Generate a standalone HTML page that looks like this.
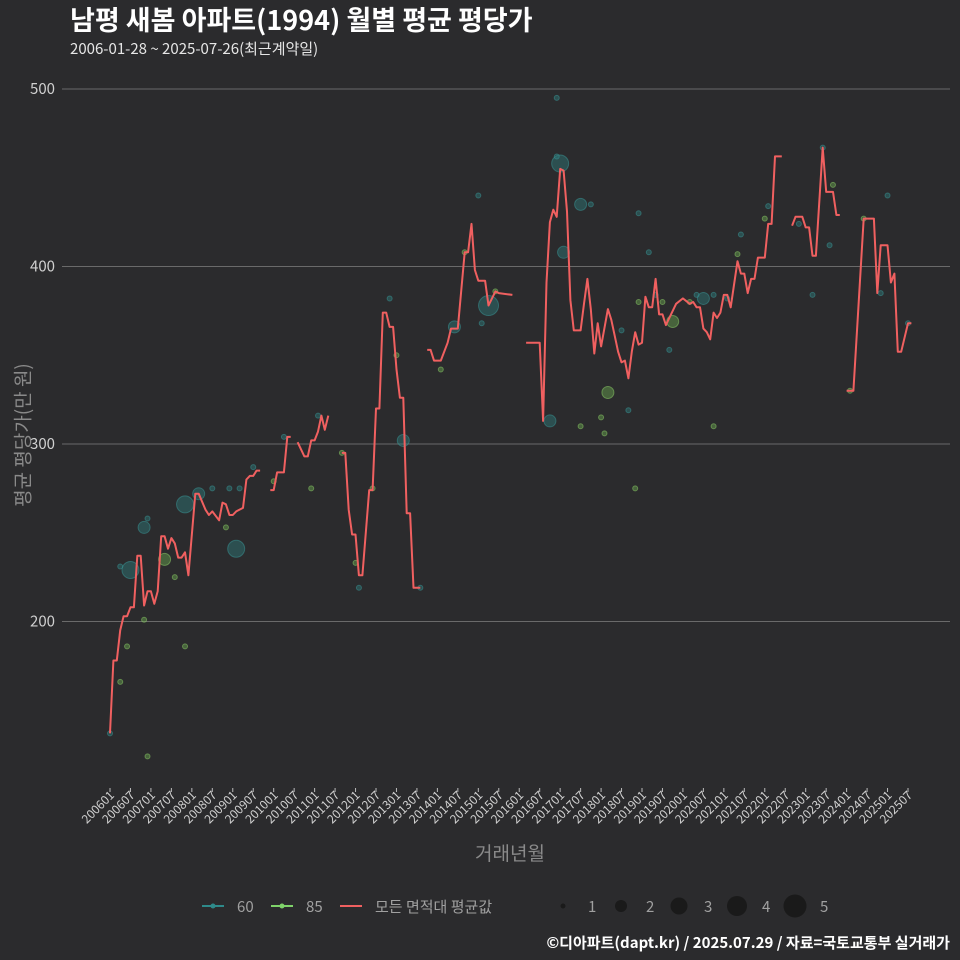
<!DOCTYPE html>
<html><head><meta charset="utf-8">
<style>
body{margin:0;background:#2b2b2d;}
#wrap{position:relative;width:960px;height:960px;}
svg{display:block;font-family:"Noto Sans CJK KR","Liberation Sans",sans-serif;}
#ytitle{position:absolute;left:22px;top:435px;transform:translate(-50%,-50%) rotate(-90deg);white-space:nowrap;color:#8a8a8a;font-size:19px;font-family:"Noto Sans CJK KR","Liberation Sans",sans-serif;line-height:1;}
</style></head>
<body>
<div id="wrap">
<svg id="chart" width="960" height="960" viewBox="0 0 960 960" xmlns="http://www.w3.org/2000/svg">
<rect x="0" y="0" width="960" height="960" fill="#2b2b2d"/>
<text x="70" y="30" fill="#ffffff" font-size="27" font-weight="bold">남평 새봄 아파트(1994) 월별 평균 평당가</text>
<text x="70" y="54" fill="#e6e6e6" font-size="15">2006-01-28 ~ 2025-07-26(최근계약일)</text>
<g id="grid"></g>
<g id="yaxis"></g>
<g id="xaxis"></g>
<g id="bubbles"></g>
<g id="line"></g>
<text x="510" y="860" text-anchor="middle" fill="#8a8a8a" font-size="19">거래년월</text>
<g id="legend"></g>
<text x="950" y="948" text-anchor="end" fill="#ffffff" font-size="15" font-weight="bold">©디아파트(dapt.kr) / 2025.07.29 / 자료=국토교통부 실거래가</text>
</svg>
<div id="ytitle">평균 평당가(만 원)</div>
</div>
<script>
// ---- data ----
const yTicks = [200, 300, 400, 500];
const tickCount = 40; // every 6 months from 200601 to 202507
const lineMonths = [0,1,2,3,4,5,6,7,8,9,10,11,12,13,14,15,16,17,18,19,20,21,22,23,25,26,28,29,30,32,33,34,35,36,37,39,40,41,42,43,44,null,47,48,49,51,52,53,null,55,57,58,59,60,61,62,63,64,null,68,69,70,71,72,73,74,76,77,78,79,80,81,82,83,84,85,86,87,88,89,91,null,93,94,95,97,99,100,102,104,105,106,107,108,110,111,113,114,118,null,122,126,127,128,129,130,131,132,133,134,135,136,137,138,139,140,141,142,143,144,146,147,148,149,150,151,152,153,154,155,156,157,158,159,160,161,162,163,166,168,170,171,172,173,174,175,176,177,178,179,180,181,182,184,185,186,187,188,189,190,191,192,193,194,195,196,197,null,200,201,203,204,205,206,207,209,210,212,213,214,null,216,218,221,224,225,226,228,229,230,231,232,234,235];
const lineValues = [137,178,178,195,203,203,208,208,237,237,209,217,217,210,217,248,248,241,247,244,236,236,239,226,272,272,263,260,262,257,267,266,260,260,262,264,280,282,282,285,285,null,274,274,284,284,304,304,null,301,293,293,302,302,307,316,308,316,null,295,295,263,249,249,226,226,274,274,320,320,374,374,366,366,342,326,326,261,261,219,219,null,353,353,347,347,357,365,365,408,408,424,398,392,392,378,386,385,384,null,357,357,313,391,425,432,428,455,454,431,381,364,364,364,379,393,376,351,368,355,376,370,361,352,346,347,337,352,363,356,357,383,377,377,393,373,373,367,379,382,379,380,377,377,365,363,359,374,371,374,384,384,377,403,396,396,385,393,393,405,405,405,424,424,462,462,462,null,423,428,428,422,422,406,406,467,442,442,429,429,null,330,330,427,427,385,412,412,391,396,352,352,368,368];
const bubbleMonths60 = [6,10,22,26,37,86,101,111,132,133,129,138,174,0,3,11,30,35,38,42,51,61,73,82,91,108,109,131,141,150,152,155,158,160,164,172,177,181,185,193,202,206,209,211,228,226,234,131];
const bubbleValues60 = [229,253,266,272,241,302,366,378,458,408,313,435,382,137,231,258,275,275,275,287,304,316,219,382,219,440,368,462,435,364,319,430,408,384,353,384,384,382,418,434,424,384,467,412,440,385,368,495];
const bubbleCounts60 = [3,2,3,2,3,2,2,4,3,2,2,2,2,1,1,1,1,1,1,1,1,1,1,1,1,1,1,1,1,1,1,1,1,1,1,1,1,1,1,1,1,1,1,1,1,1,1,1];
const bubbleMonths85 = [16,146,165,3,5,11,10,19,22,34,48,59,68,72,77,84,97,104,113,138,144,145,154,155,162,170,177,184,192,212,221,217];
const bubbleValues85 = [235,329,369,166,186,124,201,225,186,253,279,275,295,233,275,350,342,408,386,310,315,306,275,380,380,380,310,407,427,446,427,330];
const bubbleCounts85 = [2,2,2,1,1,1,1,1,1,1,1,1,1,1,1,1,1,1,1,1,1,1,1,1,1,1,1,1,1,1,1,1];
const legendSizes = [1,2,3,4,5];

// ---- scales ----
const NS = "http://www.w3.org/2000/svg";
const x = m => 110 + m * (798 / 234);
const y = v => 89 + (500 - v) * 1.775;
const r = c => [0, 2.5, 6, 8.5, 10, 11.5][c];
function mk(tag, attrs, parent){ const e=document.createElementNS(NS,tag); for(const k in attrs) e.setAttribute(k,attrs[k]); parent.appendChild(e); return e; }
function label(m){ const yy=2006+Math.floor(m/12), mm=m%12+1; return ""+yy+(mm<10?"0":"")+mm; }

const grid=document.getElementById('grid'), yaxis=document.getElementById('yaxis'), xaxis=document.getElementById('xaxis');
yTicks.forEach(t=>{
  const l=mk('line',{x1:62,x2:950,y1:y(t),y2:y(t),stroke:'#6a6a6a','stroke-width':1},grid);
  
  
  const tx=mk('text',{x:55,y:y(t)+5,'text-anchor':'end',fill:'#d0d0d0','font-size':15},yaxis);
  
  
  tx.textContent=t;
});
for(let i=0;i<tickCount;i++){
  const m=i*6, xx=x(m);
  const tk=mk('line',{x1:xx,x2:xx,y1:788,y2:792,stroke:'#bbbbbb','stroke-width':1},xaxis);
  
  
  const tx=mk('text',{x:0,y:0,transform:`translate(${xx+5},${796}) rotate(-45)`,'text-anchor':'end',fill:'#d0d0d0','font-size':12},xaxis);
  
  
  tx.textContent=label(m);
}
const bub=document.getElementById('bubbles');
function drawBubbles(ms,vs,cs,fill,stroke,name){
  ms.forEach((m,i)=>{
    const c=mk('circle',{cx:x(m),cy:y(vs[i]),r:r(cs[i]),fill:fill,'fill-opacity':0.45,stroke:stroke,'stroke-opacity':0.5,'stroke-width':1},bub);
    
    
  });
}
drawBubbles(bubbleMonths60,bubbleValues60,bubbleCounts60,'#2e7d7d','#3a9a9a','bubble-60');
drawBubbles(bubbleMonths85,bubbleValues85,bubbleCounts85,'#6aa84f','#8fd16a','bubble-85');

const lg=document.getElementById('line');
let seg=[];
function flush(){ if(seg.length){ const p=mk('polyline',{points:seg.join(' '),fill:'none',stroke:'#f06060','stroke-width':2,'stroke-linejoin':'round'},lg);   } seg=[]; }
lineMonths.forEach((m,i)=>{ if(m===null||lineValues[i]===null){flush();return;} seg.push(x(m).toFixed(1)+','+y(lineValues[i]).toFixed(1)); });
flush();

const lgd=document.getElementById('legend');
const entries=[[202,'60','#2e8a8a'],[271,'85','#7fd36a'],[340,'모든 면적대 평균값','#f06060']];
entries.forEach(([lx,t,c])=>{
  const g=mk('g',{},lgd);
  
  
  mk('line',{x1:lx,x2:lx+22,y1:906,y2:906,stroke:c,'stroke-width':2},g);
  if(t!=='모든 면적대 평균값') mk('circle',{cx:lx+11,cy:906,r:2.5,fill:c},g);
  const tx=mk('text',{x:lx+35,y:912,fill:'#a0a0a0','font-size':15},g);
  tx.textContent=t;
});
legendSizes.forEach((s,i)=>{
  const lx=563+i*58;
  const g=mk('g',{},lgd);
  
  
  mk('circle',{cx:lx,cy:906,r:r(s),fill:'#1a1a1a'},g);
  const tx=mk('text',{x:lx+25,y:912,fill:'#a0a0a0','font-size':15},g);
  tx.textContent=s;
});
</script>
</body></html>
